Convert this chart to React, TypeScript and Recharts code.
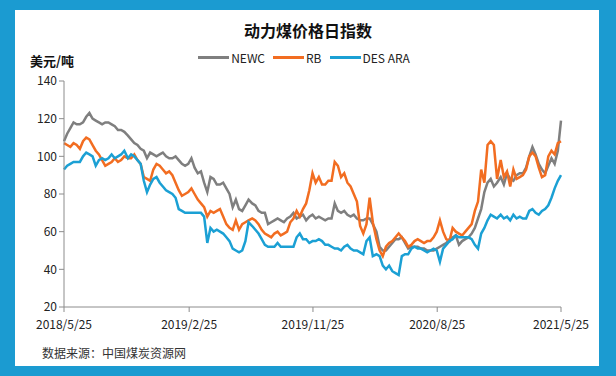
import { LineChart, Line, XAxis, YAxis, Legend } from 'recharts';

// weekly readings, 2018/5/25 .. 2021/5/25
const newc = [
  108, 112, 115, 118, 117, 117, 118, 121, 123, 120, 119, 118, 117, 118, 118, 117, 116, 114, 114, 113,
  111, 109, 107, 106, 104, 103, 99, 102, 101, 100, 101, 102, 100, 99, 99, 100, 98, 96, 95, 96,
  99, 94, 91, 92, 86, 81, 89, 88, 85, 85, 86, 83, 80, 73, 77, 72, 71, 74, 77, 75,
  74, 71, 70, 70, 64, 65, 66, 67, 66, 65, 67, 68, 70, 67, 68, 69, 66, 68, 69, 67,
  68, 67, 66, 67, 67, 75, 71, 70, 71, 69, 68, 69, 67, 66, 66, 67, 67, 64, 60, 52,
  50, 50, 52, 54, 56, 56, 57, 54, 51, 52, 52, 52, 51, 51, 50, 50, 50, 51, 52, 53,
  54, 56, 57, 58, 53, 55, 56, 57, 59, 62, 67, 72, 81, 86, 88, 84, 86, 89, 85, 91,
  88, 87, 90, 91, 91, 94, 100, 105, 101, 96, 93, 91, 95, 99, 96, 103, 119,
];
const rb = [
  107, 106, 105, 107, 106, 104, 108, 110, 109, 106, 103, 101, 98, 95, 96, 97, 99, 97, 98, 100,
  99, 99, 101, 98, 96, 89, 88, 87, 93, 96, 95, 93, 91, 92, 90, 86, 82, 79, 80, 81,
  83, 80, 77, 75, 73, 68, 71, 70, 71, 72, 68, 64, 62, 61, 66, 61, 64, 65, 66, 67,
  66, 64, 61, 59, 58, 57, 59, 60, 58, 59, 60, 65, 67, 71, 68, 72, 75, 82, 91, 86,
  89, 85, 85, 87, 87, 97, 95, 89, 91, 86, 84, 80, 76, 63, 59, 64, 78, 65, 56, 50,
  47, 52, 54, 55, 57, 59, 57, 55, 52, 53, 55, 56, 55, 54, 55, 55, 57, 60, 66, 60,
  56, 55, 62, 60, 59, 58, 60, 62, 64, 71, 76, 93, 86, 106, 108, 106, 88, 98, 89, 92,
  84, 93, 88, 89, 90, 93, 100, 102, 100, 94, 89, 90, 100, 103, 101, 107, 108,
];
const desAra = [
  93, 95, 96, 97, 97, 97, 100, 102, 101, 100, 95, 98, 99, 98, 99, 101, 99, 100, 101, 103,
  99, 101, 100, 98, 96, 87, 81, 85, 88, 89, 86, 84, 82, 81, 80, 78, 72, 71, 70, 70,
  70, 70, 70, 70, 68, 54, 62, 60, 61, 60, 59, 57, 55, 51, 50, 49, 50, 55, 65, 63,
  61, 59, 56, 53, 52, 52, 52, 54, 52, 52, 52, 52, 52, 57, 59, 56, 56, 54, 55, 55,
  56, 55, 53, 53, 52, 51, 51, 50, 52, 53, 51, 50, 50, 49, 48, 55, 57, 47, 48, 47,
  42, 40, 42, 39, 38, 37, 47, 48, 48, 51, 52, 51, 51, 50, 49, 50, 51, 50, 44, 51,
  53, 55, 56, 58, 57, 57, 57, 57, 56, 53, 51, 59, 62, 66, 69, 68, 67, 69, 67, 68,
  66, 69, 67, 68, 67, 67, 71, 72, 70, 69, 71, 72, 74, 78, 83, 87, 90,
];

const tickDays = [0, 276, 549, 823, 1096];
const tickLabels = ['2018/5/25', '2019/2/25', '2019/11/25', '2020/8/25', '2021/5/25'];
const yTicks = [20, 40, 60, 80, 100, 120, 140];

const TOTAL_DAYS = 1096;
const data = newc.map((v, i) => ({
  day: Math.round((i * TOTAL_DAYS) / (newc.length - 1)),
  NEWC: v,
  RB: rb[i],
  'DES ARA': desAra[i],
}));

const series = [
  { key: 'NEWC', color: '#7f7f7f' },
  { key: 'RB', color: '#f26d21' },
  { key: 'DES ARA', color: '#1ba0d4' },
];

const FONT = '"Noto Sans CJK SC", "Noto Sans", sans-serif';

function TopLegend() {
  return (
    <div style={{ display: 'flex', justifyContent: 'center', alignItems: 'center', fontSize: 12, color: '#222', fontFamily: FONT }}>
      {series.map((s) => (
        <div key={s.key} style={{ display: 'flex', alignItems: 'center', marginRight: 8 }}>
          <span style={{ width: 31, height: 3, background: s.color, display: 'inline-block', marginRight: 2 }} />
          <span>{s.key}</span>
        </div>
      ))}
    </div>
  );
}

export default function App() {
  return (
    <div style={{ position: 'relative', width: 616, height: 376, background: '#1b9bd1', fontFamily: FONT }}>
      <style>{'body{margin:0}'}</style>
      <div style={{ position: 'absolute', left: 15, top: 10, width: 584, height: 356, background: '#fff' }} />
      <div style={{ position: 'absolute', left: 0, top: 18, width: 616, textAlign: 'center', fontSize: 16, fontWeight: 700, color: '#111' }}>
        动力煤价格日指数
      </div>
      <div style={{ position: 'absolute', left: 30, top: 51, fontSize: 13, fontWeight: 700, color: '#111' }}>美元/吨</div>
      <div style={{ position: 'absolute', left: 42, top: 344, fontSize: 12, color: '#333' }}>数据来源：中国煤炭资源网</div>
      <div style={{ position: 'absolute', left: 0, top: 0 }}>
        <LineChart width={616} height={376} data={data} margin={{ top: 81, right: 55, left: 34, bottom: 39 }}>
          <XAxis
            dataKey="day"
            type="number"
            domain={[0, TOTAL_DAYS]}
            ticks={tickDays}
            tickFormatter={(v: number) => tickLabels[tickDays.indexOf(v)]}
            height={30}
            stroke="#8c8c8c"
            tick={{ fill: '#222', fontSize: 12, dy: 6 }}
            tickSize={5}
            interval={0}
          />
          <YAxis
            domain={[20, 140]}
            ticks={yTicks}
            width={30}
            stroke="#8c8c8c"
            tick={{ fill: '#222', fontSize: 12 }}
            tickSize={5}
            interval={0}
          />
          <Legend
            layout="horizontal"
            verticalAlign="middle"
            align="center"
            wrapperStyle={{ top: 49, left: 0, width: 616 }}
            content={() => <TopLegend />}
          />
          {series.map((s) => (
            <Line
              key={s.key}
              dataKey={s.key}
              stroke={s.color}
              strokeWidth={2.5}
              dot={false}
              type="linear"
              isAnimationActive={false}
            />
          ))}
        </LineChart>
      </div>
    </div>
  );
}
